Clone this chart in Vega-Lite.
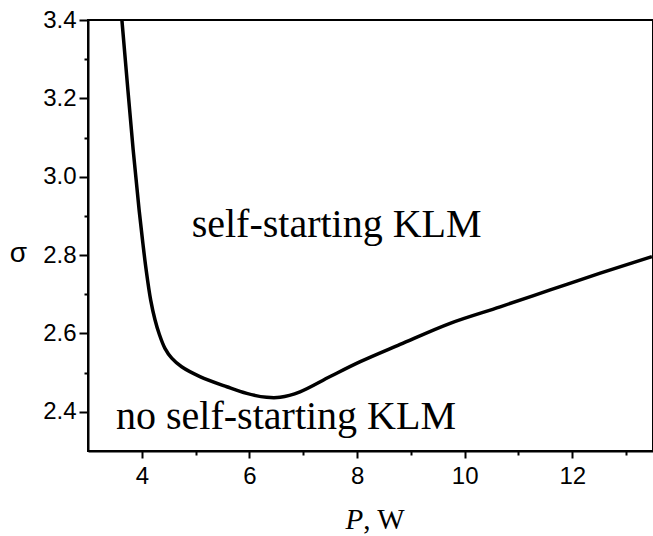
{
  "$schema": "https://vega.github.io/schema/vega-lite/v6.json",
  "width": 565,
  "height": 431,
  "autosize": {"type": "none"},
  "padding": {"left": 88, "top": 20, "right": 0, "bottom": 85},
  "background": "white",
  "config": {
    "view": {"stroke": "black", "strokeWidth": 2},
    "axis": {
      "grid": false,
      "domainColor": "black",
      "domainWidth": 2,
      "tickColor": "black",
      "tickWidth": 2,
      "labelColor": "black",
      "labelFont": "Liberation Sans",
      "labelFontSize": 24,
      "titleColor": "black",
      "titleFontWeight": "normal"
    }
  },
  "datasets": {
    "curve": [
      {"P": 3.63, "sigma": 3.400},
      {"P": 3.84, "sigma": 3.068},
      {"P": 3.95, "sigma": 2.915},
      {"P": 4.02, "sigma": 2.830},
      {"P": 4.08, "sigma": 2.763},
      {"P": 4.165, "sigma": 2.685},
      {"P": 4.245, "sigma": 2.635},
      {"P": 4.325, "sigma": 2.598},
      {"P": 4.43, "sigma": 2.562},
      {"P": 4.556, "sigma": 2.537},
      {"P": 4.74, "sigma": 2.515},
      {"P": 5.08, "sigma": 2.490},
      {"P": 5.58, "sigma": 2.464},
      {"P": 5.95, "sigma": 2.447},
      {"P": 6.32, "sigma": 2.437},
      {"P": 6.57, "sigma": 2.437},
      {"P": 6.94, "sigma": 2.451},
      {"P": 7.50, "sigma": 2.490},
      {"P": 8.06, "sigma": 2.528},
      {"P": 8.80, "sigma": 2.572},
      {"P": 9.73, "sigma": 2.626},
      {"P": 10.66, "sigma": 2.668},
      {"P": 11.59, "sigma": 2.711},
      {"P": 12.52, "sigma": 2.754},
      {"P": 13.48, "sigma": 2.796}
    ],
    "regions": [
      {"P": 7.62, "sigma": 2.847, "label": "self-starting KLM"},
      {"P": 6.68, "sigma": 2.356, "label": "no self-starting KLM"}
    ]
  },
  "layer": [
    {
      "data": {"name": "curve"},
      "mark": {"type": "line", "color": "black", "strokeWidth": 3.5, "interpolate": "catmull-rom", "clip": true},
      "encoding": {
        "x": {
          "field": "P",
          "type": "quantitative",
          "scale": {"domain": [3, 13.5], "nice": false, "zero": false},
          "axis": {
            "orient": "bottom",
            "values": [4, 5, 6, 7, 8, 9, 10, 11, 12, 13],
            "labelExpr": "datum.value % 2 == 0 ? datum.label : ''",
            "tickSize": {"condition": {"test": "datum.value % 2 == 0", "value": 7}, "value": 4},
            "labelPadding": 6,
            "title": "P",
            "titleFont": "Liberation Serif",
            "titleFontStyle": "italic",
            "titleFontSize": 29,
            "titleAnchor": "start",
            "titleAlign": "left",
            "titleBaseline": "alphabetic",
            "titleX": 257,
            "titleY": 77
          }
        },
        "y": {
          "field": "sigma",
          "type": "quantitative",
          "scale": {"domain": [2.3, 3.4], "nice": false, "zero": false},
          "axis": {
            "values": [2.4, 2.5, 2.6, 2.7, 2.8, 2.9, 3.0, 3.1, 3.2, 3.3, 3.4],
            "format": ".1f",
            "labelExpr": "round(datum.value * 10) % 2 == 0 ? datum.label : ''",
            "tickSize": {"condition": {"test": "round(datum.value * 10) % 2 == 0", "value": 9}, "value": 4},
            "labelPadding": 3,
            "title": "σ",
            "titleFont": "Liberation Sans",
            "titleFontSize": 28,
            "titleAngle": 0,
            "titleAlign": "center",
            "titleBaseline": "middle",
            "titleX": -70,
            "titleY": 233
          }
        }
      }
    },
    {
      "data": {"name": "regions"},
      "mark": {"type": "text", "font": "Liberation Serif", "fontSize": 40, "align": "center", "baseline": "alphabetic", "color": "black"},
      "encoding": {
        "x": {
          "field": "P",
          "type": "quantitative",
          "axis": {
            "orient": "bottom",
            "labels": false,
            "ticks": false,
            "domain": false,
            "title": ", W",
            "titleFont": "Liberation Serif",
            "titleFontSize": 29,
            "titleAnchor": "start",
            "titleAlign": "left",
            "titleBaseline": "alphabetic",
            "titleX": 274.7,
            "titleY": 77
          }
        },
        "y": {"field": "sigma", "type": "quantitative"},
        "text": {"field": "label"}
      }
    }
  ],
  "resolve": {"axis": {"x": "independent"}}
}
